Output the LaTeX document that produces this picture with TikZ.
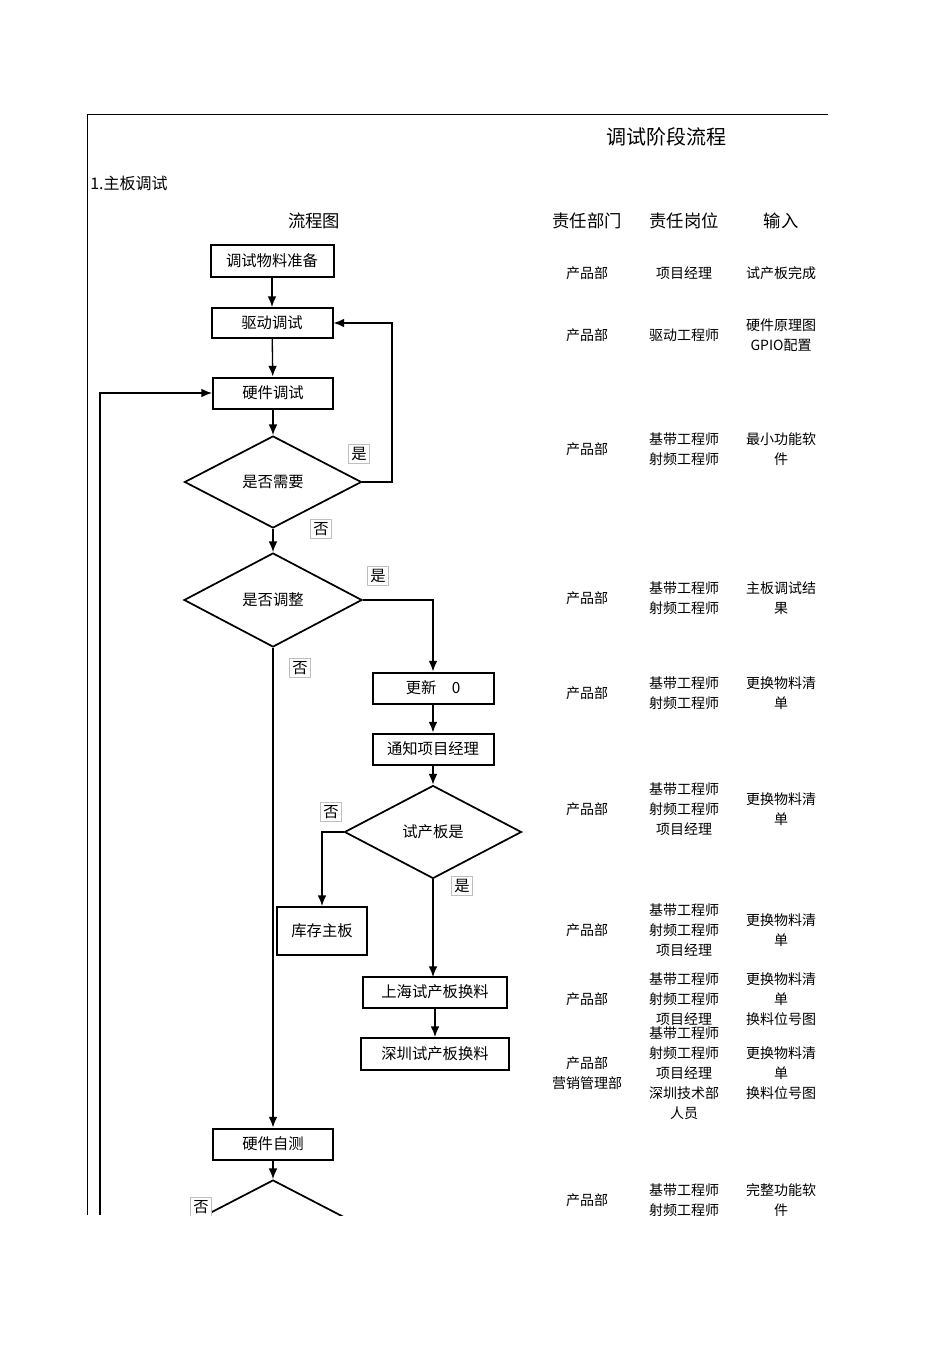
\documentclass[tikz,border=0pt]{standalone}
\usepackage{fontspec}
\setmainfont{Noto Sans CJK SC}
\usetikzlibrary{shapes.geometric,arrows.meta}
\begin{document}
\begin{tikzpicture}[x=0.75pt,y=-0.75pt,
  box/.style={draw,line width=1.5pt,inner sep=0pt,font=\fontsize{11.5}{14}\selectfont},
  dia/.style={draw,line width=1.3pt,diamond,inner sep=0pt,font=\fontsize{11.5}{14}\selectfont},
  arr/.style={-{Latex[length=8pt,width=6.5pt]},line width=1pt},
  lab/.style={draw=black!25,line width=0.5pt,fill=white,inner sep=2pt,font=\fontsize{11.5}{14}\selectfont},
  tx/.style={align=center,font=\fontsize{10.5}{15}\selectfont,inner sep=0pt}]
\useasboundingbox (0,0) rectangle (950,1345);
\begin{scope}
\clip (0,0) rectangle (950,1215);
\draw[line width=0.6pt] (828,114) -- (87,114) -- (87,1215);
\node[font=\fontsize{15}{18}\selectfont] (title) at (666,137) {调试阶段流程};
\node[anchor=west,font=\fontsize{12}{14}\selectfont,inner sep=0pt] (sec) at (90,183) {1.主板调试};
\node[font=\fontsize{13}{15}\selectfont] (h0) at (314,221) {流程图};
\node[font=\fontsize{13}{15}\selectfont] (h1) at (587,221) {责任部门};
\node[font=\fontsize{13}{15}\selectfont] (h2) at (684,221) {责任岗位};
\node[font=\fontsize{13}{15}\selectfont] (h3) at (781,221) {输入};

\node[box,minimum width=92.25pt,minimum height=24pt] (n1) at (272,261) {调试物料准备};
\node[box,minimum width=90.75pt,minimum height=22.5pt] (n2) at (272,323) {驱动调试};
\node[box,minimum width=90pt,minimum height=23.25pt] (n3) at (273,393) {硬件调试};
\node[dia,minimum width=132.75pt,minimum height=69pt,aspect=1.92] (d1) at (273,482) {是否需要};
\node[dia,minimum width=133.5pt,minimum height=70.5pt,aspect=1.9] (d2) at (273,600) {是否调整};
\node[box,minimum width=90.75pt,minimum height=23.25pt] (n4) at (433,688) {更新\quad 0};
\node[box,minimum width=90.75pt,minimum height=23.25pt] (n5) at (433,749) {通知项目经理};
\node[dia,minimum width=132.75pt,minimum height=69.75pt,aspect=1.9] (d3) at (433,832) {试产板是};
\node[box,minimum width=67.5pt,minimum height=36pt] (n6) at (322,931) {库存主板};
\node[box,minimum width=108pt,minimum height=23.25pt] (n7) at (435,992) {上海试产板换料};
\node[box,minimum width=111pt,minimum height=24pt] (n8) at (435,1054) {深圳试产板换料};
\node[box,minimum width=90pt,minimum height=23.25pt] (n9) at (273,1144) {硬件自测};
\node[dia,minimum width=132.75pt,minimum height=69pt,aspect=1.92] (d4) at (273,1226) {};

\draw[arr] (n1) -- (n2);
\draw[arr] (n2) -- (n3);
\draw[arr] (n3) -- (d1);
\draw[arr] (d1.east) -- (392,482) -- (392,323) -- (n2.east);
\draw[arr] (d1) -- (d2);
\draw[arr] (d2.east) -- (433,600) -- (n4.north);
\draw[arr] (d2.south) -- (n9.north);
\draw[arr] (n4) -- (n5);
\draw[arr] (n5) -- (d3);
\draw[arr] (d3.west) -- (322,832) -- (n6.north);
\draw[arr] (d3.south) -- (433,977);
\draw[arr] (n7) -- (n8);
\draw[arr] (n9) -- (d4);
\coordinate (lb) at (100,1215);
\draw[arr] (lb) -- (100,393) -- (n3.west);

\node[lab] (l1) at (359,454) {是};
\node[lab] (l2) at (321,529) {否};
\node[lab] (l3) at (378,576) {是};
\node[lab] (l4) at (300,668) {否};
\node[lab] (l5) at (331,812) {否};
\node[lab] (l6) at (462,886) {是};
\node[lab] (l7) at (201,1207) {否};

\foreach \y/\a/\b/\c [count=\i] in {
 273/产品部/项目经理/试产板完成,
 335/产品部/驱动工程师/{硬件原理图\\GPIO配置},
 449/产品部/{基带工程师\\射频工程师}/{最小功能软\\件},
 598/产品部/{基带工程师\\射频工程师}/{主板调试结\\果},
 693/产品部/{基带工程师\\射频工程师}/{更换物料清\\单},
 809/产品部/{基带工程师\\射频工程师\\项目经理}/{更换物料清\\单},
 930/产品部/{基带工程师\\射频工程师\\项目经理}/{更换物料清\\单},
 999/产品部/{基带工程师\\射频工程师\\项目经理}/{更换物料清\\单\\换料位号图},
 1073/{产品部\\营销管理部}/{基带工程师\\射频工程师\\项目经理\\深圳技术部\\人员}/{更换物料清\\单\\换料位号图},
 1200/产品部/{基带工程师\\射频工程师}/{完整功能软\\件}}
{
 \node[tx] (ra\i) at (587,\y) {\a};
 \node[tx] (rb\i) at (684,\y) {\b};
 \node[tx] (rc\i) at (781,\y) {\c};
}
\end{scope}
\end{tikzpicture}
\end{document}
